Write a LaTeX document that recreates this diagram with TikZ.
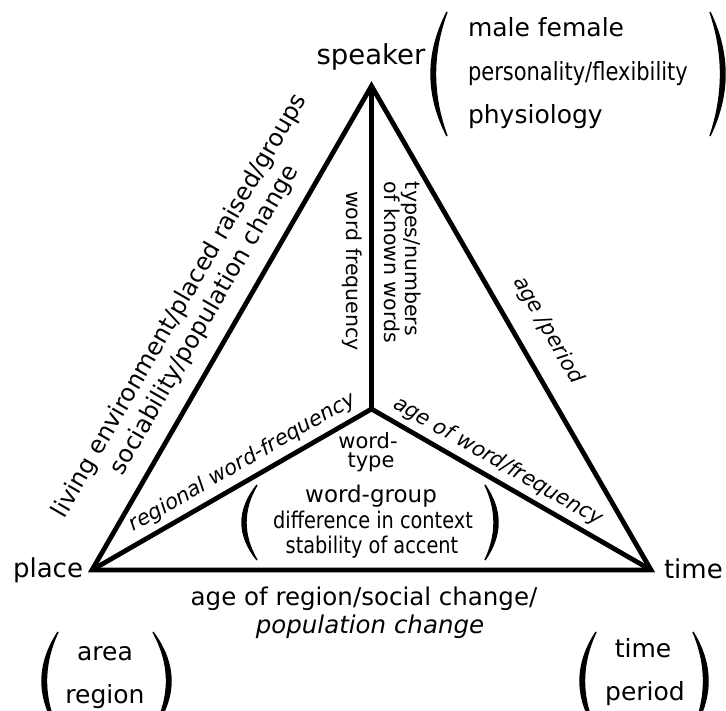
\documentclass[tikz,border=0pt]{standalone}
\usepackage{fontspec}
\setmainfont{DejaVu Sans}
\newfontfamily\condfont[FakeStretch=0.84]{DejaVu Sans}
\newcommand\fsize[2]{\fontsize{#1}{#2}\selectfont}
\newcommand\parenlune[5]{%
  \pgfmathsetmacro\ko{(#4-0.25*#1)/0.75}%
  \pgfmathsetmacro\ki{(#4+#5-0.25*#1)/0.75}%
  \pgfmathsetmacro\ya{#2+(#3-#2)/3}%
  \pgfmathsetmacro\yb{#2+2*(#3-#2)/3}%
  \filldraw[line width=1.4pt] (#1,#2) .. controls (\ko,\ya) and (\ko,\yb) .. (#1,#3) .. controls (\ki,\yb) and (\ki,\ya) .. (#1,#2) -- cycle;
}
\begin{document}
\begin{tikzpicture}[x=1pt,y=-1pt,
  edge/.style={line width=4.8pt, line join=miter},
  lbl/.style={inner sep=0pt, outer sep=0pt},
  big/.style={lbl, font=\fsize{26}{30}},
  side/.style={lbl, font=\fsize{24.5}{29}},
  inner/.style={lbl, font=\fsize{20.5}{19}},
  itl/.style={lbl, font=\fsize{21}{25}\itshape}]
\useasboundingbox (0,0) rectangle (726,711);
\clip (0,0) rectangle (726,711);

% triangle
\coordinate (S) at (371.5,86);
\coordinate (P) at (92,570);
\coordinate (T) at (651,570);
\coordinate (C) at (371.5,409);
\draw[edge] (P) -- (S) -- (T) -- cycle;
\draw[edge] (C) -- (S);
\draw[edge] (C) -- (P);
\draw[edge] (C) -- (T);

% vertex labels
\node[lbl, font=\fsize{27.5}{30}, anchor=base] (speaker) at (371,65) {speaker};
\node[big, anchor=base east] (place) at (83,577) {place};
\node[big, anchor=base west] (time) at (664,578) {time};

% speaker list
\node[lbl, font=\fsize{25}{30}, anchor=base west] (male) at (468,37) {male female};
\node[lbl, font=\fsize{25}{30}\condfont, anchor=base west] (pers) at (468,81) {personality/flexibility};
\node[lbl, font=\fsize{25}{30}, anchor=base west] (phys) at (468,124) {physiology};
\parenlune{447}{12}{136}{431}{4.5}
\parenlune{710}{12}{136}{725}{-4.5}

% edge labels
\node[lbl, rotate=60, align=center, font=\fsize{24}{28.5}] (env) at (192.5,313)
  {living environment/placed raised/groups\\sociability/population change};
\node[itl, rotate=-60] (ageperiod) at (548,330) {age /period};
\node[itl, rotate=30] (regional) at (242.5,462.5) {regional word-frequency};
\node[itl, rotate=-30] (ageword) at (498,461.5) {age of word/frequency};
\node[inner, rotate=-90] (wordfreq) at (352,271) {word frequency};
\node[inner, rotate=-90, align=left] (types) at (403,262.5) {types/numbers\\of known words};

% inner block
\node[lbl, font=\fsize{21}{19}, anchor=base] (word) at (368,448) {word-};
\node[lbl, font=\fsize{21}{19}, anchor=base] (type) at (371,467) {type};
\node[lbl, font=\fsize{23}{25}, anchor=base] (wgroup) at (371,502) {word-group};
\node[lbl, font=\fsize{23}{25}\condfont, anchor=base] (diff) at (373,528) {difference in context};
\node[lbl, font=\fsize{23}{25}\condfont, anchor=base] (stab) at (372,553) {stability of accent};
\parenlune{257}{485}{560}{242}{4}
\parenlune{485}{485}{560}{498}{-4}

% bottom
\node[side, anchor=base] (agereg) at (364,605) {age of region/social change/};
\node[side, anchor=base] (popch) at (370,633) {\itshape population change};

\node[lbl, font=\fsize{25}{30}, anchor=base] (area) at (105,660) {area};
\node[lbl, font=\fsize{25}{30}, anchor=base] (region) at (105,703) {region};
\parenlune{58}{632}{730}{42}{4.5}
\parenlune{153}{632}{730}{171}{-4.5}

\node[lbl, font=\fsize{25}{30}, anchor=base] (time2) at (643,657) {time};
\node[lbl, font=\fsize{25}{30}, anchor=base] (period) at (645,700) {period};
\parenlune{596}{632}{730}{580}{4.5}
\parenlune{693}{632}{730}{708}{-4.5}
\end{tikzpicture}
\end{document}
